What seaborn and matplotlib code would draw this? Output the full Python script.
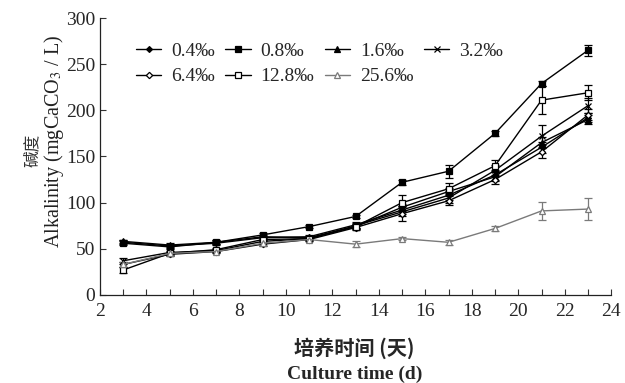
import numpy as np
import pandas as pd
import seaborn as sns
import matplotlib.pyplot as plt
from matplotlib.ticker import MultipleLocator

days = [3, 5, 7, 9, 11, 13, 15, 17, 19, 21, 23]

labels = ["0.4‰", "0.8‰", "1.6‰", "3.2‰", "6.4‰", "12.8‰", "25.6‰"]

alk_04 = [57, 53, 56, 62, 63, 76, 92, 108, 130, 160, 192]
alk_08 = [56, 52, 57, 65, 74, 85, 122, 134, 175, 229, 265]
alk_16 = [58, 54, 57, 63, 62, 74, 95, 112, 128, 165, 190]
alk_32 = [37, 46, 48, 58, 61, 75, 90, 105, 135, 172, 205]
alk_64 = [33, 44, 47, 55, 60, 73, 88, 102, 125, 155, 195]
alk_128 = [27, 45, 49, 60, 61, 74, 100, 115, 140, 211, 219]
alk_256 = [33, 45, 47, 56, 60, 55, 61, 57, 72, 91, 93]

err_04 = [2, 2, 2, 2, 2, 3, 4, 5, 5, 6, 5]
err_08 = [2, 2, 2, 2, 2, 2, 3, 7, 3, 3, 6]
err_16 = [2, 2, 2, 2, 2, 3, 4, 4, 5, 6, 5]
err_32 = [3, 2, 2, 2, 2, 3, 5, 5, 6, 12, 8]
err_64 = [3, 2, 2, 2, 2, 3, 8, 5, 5, 7, 6]
err_128 = [3, 2, 2, 2, 2, 3, 8, 6, 6, 15, 8]
err_256 = [3, 2, 2, 2, 2, 3, 2, 3, 3, 10, 12]

series = [alk_04, alk_08, alk_16, alk_32, alk_64, alk_128, alk_256]
errors = [err_04, err_08, err_16, err_32, err_64, err_128, err_256]

# marker, face colour, line colour, marker size
styles = [
    ("D", "black", "black", 3.0),
    ("s", "black", "black", 5.0),
    ("^", "black", "black", 4.8),
    ("x", "black", "black", 5.0),
    ("D", "white", "black", 3.2),
    ("s", "white", "black", 5.0),
    ("^", "white", "#7a7a7a", 4.2),
]

sns.set_style("ticks")
plt.rcParams['font.family'] = ['Liberation Serif', 'Noto Sans CJK SC']
plt.rcParams['mathtext.fontset'] = 'stix'

fig = plt.figure(figsize=(6.25, 3.83), dpi=100)
ax = fig.add_axes([0.16, 0.23, 0.818, 0.723])

for lab, vals, err, (m, fc, lc, ms) in zip(labels, series, errors, styles):
    ax.errorbar(days, vals, yerr=err, fmt="none", ecolor=lc, elinewidth=0.9,
                capsize=3, capthick=0.9, zorder=2)
    sns.lineplot(x=days, y=vals, ax=ax, color=lc, linewidth=1.0, marker=m,
                 markersize=ms, markerfacecolor=fc, markeredgecolor=lc,
                 markeredgewidth=0.9, label=lab, zorder=3)

h, l = ax.get_legend_handles_labels()
order = [0, 4, 1, 5, 2, 6, 3]
ax.legend([h[i] for i in order], [l[i] for i in order], ncol=4, frameon=False,
          loc="upper left", bbox_to_anchor=(0.055, 0.94), fontsize=14,
          handlelength=1.3, handletextpad=0.5, columnspacing=0.55,
          labelspacing=0.4, borderaxespad=0)

ax.set_xlim(2, 24)
ax.set_ylim(0, 300)
ax.xaxis.set_major_locator(MultipleLocator(2))
ax.xaxis.set_minor_locator(MultipleLocator(1))
ax.yaxis.set_major_locator(MultipleLocator(50))
ax.tick_params(axis="both", which="both", direction="in", labelsize=14,
               color="#333333", width=0.8)
ax.tick_params(which="major", length=4)
ax.tick_params(which="minor", length=4)
ax.tick_params(axis="x", pad=6)
sns.despine(ax=ax)
for s in ["left", "bottom"]:
    ax.spines[s].set_linewidth(0.9)
    ax.spines[s].set_color("#222222")
ax.set_xlabel("")
ax.set_ylabel("")

fig.text(0.052, 0.608, "碱度", rotation=90, ha="center", va="center",
         fontsize=12, family=['Noto Sans CJK SC'], color="#333333")
fig.text(0.086, 0.63, "Alkalinity (mgCaCO$_3$ / L)", rotation=90,
         ha="center", va="center", fontsize=14.5, color="#222222")
fig.text(0.567, 0.092, "培养时间 (天)", ha="center", va="center", fontsize=14.5,
         fontweight="bold", family=['Noto Sans CJK SC', 'Liberation Serif'])
fig.text(0.567, 0.022, "Culture time (d)", ha="center", va="center",
         fontsize=14, fontweight="bold")

fig.savefig("out.png", dpi=100)
